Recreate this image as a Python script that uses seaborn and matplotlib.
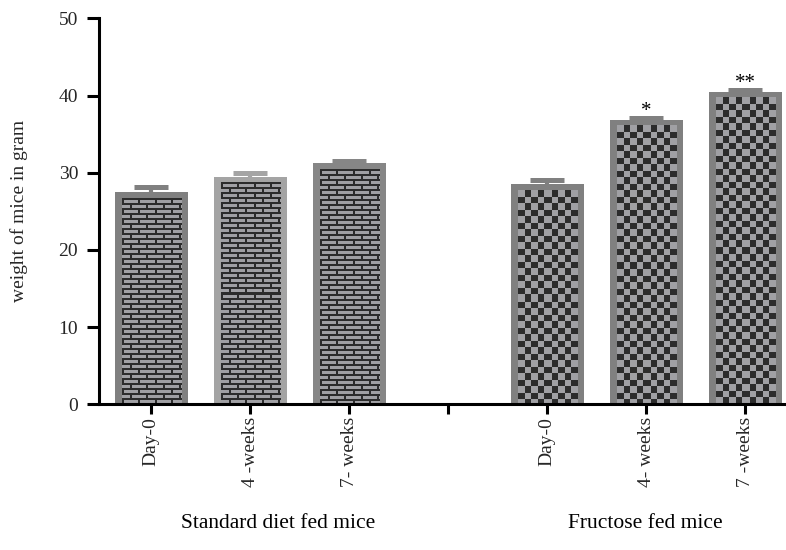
import numpy as np
import pandas as pd
import matplotlib
matplotlib.use("Agg")
import matplotlib.pyplot as plt
import matplotlib.transforms as mtransforms
import seaborn as sns

# ---- data -------------------------------------------------------------
groups = ["Standard diet fed mice", "Fructose fed mice"]
time_labels = ["Day-0", "4 -weeks", "7- weeks", "Day-0", "4- weeks", "7 -weeks"]
diet = ["standard", "standard", "standard", "fructose", "fructose", "fructose"]
mean_weight = [27.1, 29.1, 30.85, 28.1, 36.5, 40.1]
sem_weight = [1.0, 0.9, 0.65, 0.9, 0.65, 0.6]
significance = ["", "", "", "", "*", "**"]

# ---- styling ----------------------------------------------------------
edge_colors = ["#808080", "#a4a4a4", "#868686", "#808080", "#808080", "#808080"]
light = np.array([0xa0, 0xa0, 0xa4]) / 255
dark = np.array([0x2c, 0x2c, 0x2c]) / 255
EDGE_PX = 7.0

sns.set_style("ticks")
plt.rcParams["font.family"] = ["Liberation Serif", "DejaVu Serif"]

slots = [f"{d}|{t}" for d, t in zip(diet, time_labels)]
order = slots[:3] + ["gap"] + slots[3:]
df = pd.DataFrame({"slot": slots, "weight": mean_weight})

fig = plt.figure(figsize=(7.86, 5.5), dpi=100)
ax = fig.add_axes([0.126, 0.2649, 0.8715, 0.7018])

sns.barplot(data=df, x="slot", y="weight", order=order, color="#a0a0a4",
            width=0.667, linewidth=EDGE_PX * 72 / 100, edgecolor="#808080",
            errorbar=None, ax=ax, zorder=1)

XLIM = (-0.528, 6.39)
YLIM = (0, 50)
ax.set_xlim(*XLIM)
ax.set_ylim(*YLIM)

bars = sorted(ax.patches, key=lambda p: p.get_x())
for p, c in zip(bars, edge_colors):
    p.set_edgecolor(c)


def brick(h, w):
    img = np.empty((h, w, 3))
    img[:] = light
    for r in range(h):
        if r % 5 < 2:
            img[r, :] = dark
        else:
            off = 0 if (r // 5) % 2 == 0 else 8
            for c in range(w):
                if (c + off) % 16 < 2:
                    img[r, c] = dark
    return img


def checker(h, w):
    rr, cc = np.mgrid[0:h, 0:w]
    mask = ((np.floor(rr / 6.5) + np.floor(cc / 6.5)) % 2).astype(bool)
    img = np.empty((h, w, 3))
    img[:] = light
    img[mask] = dark
    return img


# fill the inside of each bar with its diet pattern
inv = ax.transData.inverted()
for p, d in zip(bars, diet):
    x0, x1 = p.get_x(), p.get_x() + p.get_width()
    top = p.get_y() + p.get_height()
    (px0, py0), (px1, py1) = ax.transData.transform([(x0, 0), (x1, top)])
    half = EDGE_PX / 2
    px0, px1, py1 = px0 + half, px1 - half, py1 - half
    w = int(round(px1 - px0))
    h = int(round(py1 - py0))
    img = brick(h, w) if d == "standard" else checker(h, w)
    (dx0, dy0), (dx1, dy1) = inv.transform([(px0, py0), (px1, py1)])
    ax.imshow(img, extent=(dx0, dx1, dy0, dy1), origin="upper",
              interpolation="nearest", aspect="auto", zorder=1.5)

# upper error bars and significance marks
for p, m, s, c, sig in zip(bars, mean_weight, sem_weight, edge_colors, significance):
    xc = p.get_x() + p.get_width() / 2
    ax.errorbar(xc, m, yerr=[[0], [s]], fmt="none", ecolor=c, elinewidth=3,
                capsize=11.9, capthick=3.6, zorder=0.9)
    if sig:
        ax.text(xc, m + s + 0.8, sig, ha="center", va="center", fontsize=15,
                color="black", zorder=3)

ax.set_xlim(*XLIM)
ax.set_ylim(*YLIM)
ax.set_yticks(np.arange(0, 51, 10))
ax.set_xticks(range(len(order)))
tick_text = time_labels[:3] + [""] + time_labels[3:]
ax.set_xticklabels(tick_text, rotation=90, fontsize=14)
ax.tick_params(axis="y", labelsize=14, length=9, width=2.2, pad=6, color="black")
ax.tick_params(axis="x", length=7, width=2.2, pad=2, color="black")
ax.set_xlabel("")
ax.set_ylabel("weight of mice in gram", fontsize=14)
ax.yaxis.set_label_coords(-0.104, 0.5)

for side in ["top", "right"]:
    ax.spines[side].set_visible(False)
for side in ["left", "bottom"]:
    ax.spines[side].set_linewidth(2.2)
    ax.spines[side].set_color("black")
    ax.spines[side].set_zorder(3)

blend = mtransforms.blended_transform_factory(ax.transData, fig.transFigure)
for xg, name in zip([1.28, 4.99], groups):
    ax.text(xg, 0.049, name, transform=blend, ha="center", va="center",
            fontsize=15.5, color="black")

fig.savefig("out.png", dpi=100)
